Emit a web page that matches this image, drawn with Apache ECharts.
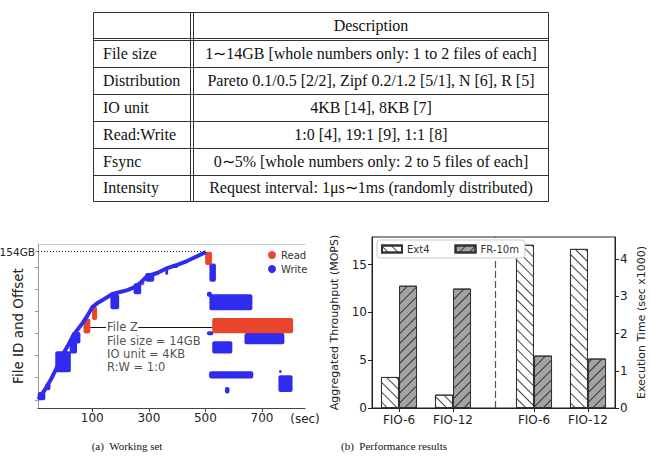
<!DOCTYPE html>
<html>
<head>
<meta charset="utf-8">
<script src="https://cdn.jsdelivr.net/npm/echarts@6/dist/echarts.min.js"></script>
<style>
html, body { margin: 0; padding: 0; background: #fff; }
#chart { width: 651px; height: 464px; }
</style>
</head>
<body>
<div id="chart"></div>
<script>
// ---- table ----
const tableHeader = 'Description'
const rowLabels = ['File size', 'Distribution', 'IO unit', 'Read:Write', 'Fsync', 'Intensity']
const rowDescriptions = [
  '1\u223C14GB [whole numbers only: 1 to 2 files of each]',
  'Pareto 0.1/0.5 [2/2], Zipf 0.2/1.2 [5/1], N [6], R [5]',
  '4KB [14], 8KB [7]',
  '1:0 [4], 19:1 [9], 1:1 [8]',
  '0\u223C5% [whole numbers only: 2 to 5 files of each]',
  'Request interval: 1\u03BCs\u223C1ms (randomly distributed)'
]
const captions = ['(a)  Working set', '(b)  Performance results']

// ---- (a) working set: sec / GB ----
const writeCurve = [
  [-91, 8.6], [-70, 17], [-48, 27.3], [-25, 40], [-2, 54], [15, 62], [33, 71.8], [50, 78],
  [68, 84.6], [85, 92], [100, 99.4], [118, 103.4], [140, 107], [171, 112.3], [224, 116.2],
  [250, 119], [269, 123.1], [294, 130], [330, 133], [365, 137.9], [400, 141], [435, 144.8], [502, 153.7]
]
// blocks: [startSec, endSec, lowGB, highGB]
const writeBlocks = [
  [-93, -66, 7.6, 15.8], [-66, -48, 17.5, 24.4], [-31, 24, 35.2, 56], [20, 46, 53.7, 66.8],
  [28, 58, 63.6, 75], [164, 195, 97.4, 112.2], [246, 273, 112.2, 123], [287, 319, 124.4, 133],
  [358, 368, 131.2, 139], [382, 404, 138, 142], [514, 537, 124.4, 142.5], [505, 523, 109.6, 114.5],
  [514, 666, 96.4, 112.2], [505, 528, 71.8, 75.7], [638, 779, 62.9, 74], [524, 595, 53.7, 65.8],
  [513, 669, 29, 36.2], [569, 585, 14.2, 20.7], [760, 770, 34.5, 37.2], [758, 808, 15.8, 32.3]
]
const readBlocks = [
  [69, 93, 73.4, 88.2], [99, 117, 86.6, 99.7], [273, 284, 121, 125.3],
  [499, 523, 140.8, 154], [524, 810, 73.7, 88.8]
]
const maxOffset = 154
const timeTicks = [100, 300, 500, 700]
const offsetTicks = [8, 30, 52, 74, 95, 117, 139, 154]
const annotationLines = ['File Z', 'File size = 14GB', 'IO unit = 4KB', 'R:W = 1:0']

// ---- (b) performance results ----
const groups = ['FIO-6', 'FIO-12', 'FIO-6', 'FIO-12']
const groupPos = [0, 1, 2.5, 3.5]
const ext4Throughput = [3.25, 1.4]
const frThroughput = [12.8, 12.5]
const ext4Time = [4.39, 4.28]   // sec x1000
const frTime = [1.41, 1.33]
const throughputTicks = [0, 5, 10, 15]
const timeTicksB = [0, 1, 2, 3, 4]

const BLUE = '#2f2bef'
const RED = '#e8452c'
const SANS = 'DejaVu Sans'
const SERIF = '"Liberation Serif", "Times New Roman", serif'

// table drawn as graphic elements
const T = { x0: 93.5, x1: 548.5, xs: 190.5, xs2: 193.5, top: 12.5, hdr: 38.5, hdr2: 40.5, rowH: 26.8 }
const tableEls = []
const hline = (y) => tableEls.push({ type: 'line', shape: { x1: T.x0, y1: y, x2: T.x1, y2: y }, style: { stroke: '#333', lineWidth: 1 } })
const bottom = T.hdr2 + T.rowH * rowLabels.length
hline(T.top); hline(T.hdr); hline(T.hdr2)
rowLabels.forEach((_, i) => hline(Math.round(T.hdr2 + T.rowH * (i + 1)) + 0.5))
;[T.x0, T.x1, T.xs, T.xs2].forEach(x => tableEls.push({ type: 'line', shape: { x1: x, y1: T.top, x2: x, y2: Math.round(bottom) + 0.5 }, style: { stroke: '#333', lineWidth: 1 } }))
const colMid = (T.xs2 + T.x1) / 2
const txt = (s, x, y, align, size) => tableEls.push({ type: 'text', x: x, y: y, style: { text: s, font: size + 'px ' + SERIF, fill: '#111', align: align, verticalAlign: 'middle' } })
txt(tableHeader, colMid, (T.top + T.hdr) / 2, 'center', 16)
rowLabels.forEach((s, i) => {
  const y = T.hdr2 + T.rowH * (i + 0.5)
  txt(s, 103, y, 'left', 16)
  txt(rowDescriptions[i], colMid, y, 'center', 16)
})
txt(captions[0], 127, 446, 'center', 11)
txt(captions[1], 394, 446, 'center', 11)

function renderBlock(params, api) {
  const a = api.coord([api.value(0), api.value(3)])
  const b = api.coord([api.value(1), api.value(2)])
  return {
    type: 'rect',
    shape: { x: a[0], y: a[1], width: b[0] - a[0], height: b[1] - a[1], r: 2 },
    style: { fill: api.visual('color') }
  }
}

const hatch = (rot, color) => ({
  symbol: 'rect', symbolSize: 1, dashArrayX: [1, 0], dashArrayY: [1, 6],
  rotation: rot, color: color, backgroundColor: null
})
const ext4Style = { color: '#ffffff', borderColor: '#333', borderWidth: 1, decal: hatch(Math.PI / 4, '#444') }
const frStyle = { color: '#a3a3a3', borderColor: '#333', borderWidth: 1, decal: hatch(-Math.PI / 4, '#333') }

const chart = echarts.init(document.getElementById('chart'), null, { renderer: 'svg' })
chart.setOption({
  animation: false,
  textStyle: { fontFamily: SANS },
  graphic: tableEls,
  legend: [
    {
      data: ['Read', 'Write'], orient: 'vertical', left: 268, top: 250,
      icon: 'circle', itemWidth: 8, itemHeight: 8, itemGap: 4,
      textStyle: { fontSize: 10, color: '#333', fontFamily: SANS }, padding: 0
    },
    {
      data: ['Ext4', 'FR-10m'], left: 377, top: 240, icon: 'rect', z: 20,
      itemWidth: 20, itemHeight: 7, itemGap: 25, backgroundColor: '#fff',
      borderColor: '#ccc', borderWidth: 1, borderRadius: 3, padding: [4, 6, 4, 4],
      textStyle: { fontSize: 10, color: '#333', fontFamily: SANS }
    }
  ],
  grid: [
    { left: 38, right: 346, top: 244, bottom: 56, outerBoundsMode: 'none', containLabel: false },
    { left: 372, right: 36, top: 237, bottom: 56, outerBoundsMode: 'none', containLabel: false, show: true, borderColor: '#222', borderWidth: 1 }
  ],
  xAxis: [
    {
      gridIndex: 0, type: 'value', min: -92, max: 852,
      name: '(sec)', nameLocation: 'end', nameGap: 0, nameMoveOverlap: false,
      nameTextStyle: { fontSize: 12, color: '#222', align: 'center', verticalAlign: 'top', padding: [5, 0, 0, 0] },
      axisLine: { onZero: false, lineStyle: { color: '#444' } },
      axisTick: { customValues: timeTicks, length: 4, lineStyle: { color: '#444' } },
      axisLabel: { customValues: timeTicks, fontSize: 12, color: '#222', margin: 4 },
      splitLine: { show: false }
    },
    {
      gridIndex: 0, type: 'value', position: 'top', min: -92, max: 852,
      axisLine: { onZero: false, lineStyle: { color: '#c8c8c8' } },
      axisTick: { show: false }, axisLabel: { show: false }, splitLine: { show: false }
    },
    {
      gridIndex: 1, type: 'value', min: -0.5, max: 4,
      axisLine: { onZero: false, lineStyle: { color: '#222' } },
      axisTick: { customValues: groupPos, length: 4, lineStyle: { color: '#222' } },
      axisLabel: {
        customValues: groupPos, fontSize: 12, color: '#222', margin: 6,
        formatter: (v) => groups[groupPos.indexOf(v)]
      },
      splitLine: { show: false }
    }
  ],
  yAxis: [
    {
      gridIndex: 0, type: 'value', min: 0, max: 161.6,
      name: 'File ID and Offset', nameLocation: 'middle', nameGap: 13, nameMoveOverlap: false,
      nameTextStyle: { fontSize: 13.5, color: '#222' },
      axisLine: { show: true, onZero: false, lineStyle: { color: '#999' } },
      axisTick: { show: true, customValues: offsetTicks, length: 3, lineStyle: { color: '#999' } },
      axisLabel: { customValues: [maxOffset], formatter: '{value}GB', fontSize: 10.5, color: '#222', margin: 3 },
      splitLine: { show: false }
    },
    {
      gridIndex: 1, type: 'value', min: 0, max: 17.9,
      name: 'Aggregated Throughput (MOPS)', nameLocation: 'middle', nameGap: 32, nameMoveOverlap: false,
      nameTextStyle: { fontSize: 11, color: '#222' },
      axisLine: { show: true, onZero: false, lineStyle: { color: '#222' } },
      axisTick: { show: true, customValues: throughputTicks, length: 4, lineStyle: { color: '#222' } },
      axisLabel: { customValues: throughputTicks, fontSize: 12, color: '#222', margin: 5 },
      splitLine: { show: false }
    },
    {
      gridIndex: 1, type: 'value', position: 'right', min: 0, max: 4.6,
      name: 'Execution Time (sec x1000)', nameLocation: 'middle', nameGap: 21, nameMoveOverlap: false,
      nameTextStyle: { fontSize: 11, color: '#222' },
      axisLine: { show: true, onZero: false, lineStyle: { color: '#222' } },
      axisTick: { show: true, customValues: timeTicksB, length: 4, lineStyle: { color: '#222' } },
      axisLabel: { customValues: timeTicksB, fontSize: 12, color: '#222', margin: 5 },
      splitLine: { show: false }
    }
  ],
  series: [
    {
      name: 'Write', type: 'line', xAxisIndex: 0, yAxisIndex: 0,
      data: writeCurve, showSymbol: false, symbol: 'none',
      lineStyle: { color: BLUE, width: 4 }, itemStyle: { color: BLUE },
      markLine: {
        silent: true, symbol: 'none', label: { show: false },
        lineStyle: { color: '#222', type: [1, 2], width: 1 },
        data: [[{ coord: [-92, maxOffset] }, { coord: [499, maxOffset] }]]
      }
    },
    {
      name: 'Write', type: 'custom', xAxisIndex: 0, yAxisIndex: 0,
      data: writeBlocks, encode: { x: [0, 1], y: [2, 3] },
      itemStyle: { color: BLUE }, renderItem: renderBlock
    },
    {
      name: 'Read', type: 'custom', xAxisIndex: 0, yAxisIndex: 0,
      data: readBlocks, encode: { x: [0, 1], y: [2, 3] },
      itemStyle: { color: RED }, renderItem: renderBlock
    },
    {
      name: 'annotation', type: 'scatter', xAxisIndex: 0, yAxisIndex: 0,
      data: [[152, 59.9]], symbolSize: 0, silent: true,
      label: {
        show: true, position: 'right', distance: 0,
        formatter: annotationLines.join('\n'),
        fontSize: 11.5, lineHeight: 13.3, color: '#222', align: 'left'
      },
      markLine: {
        silent: true, symbol: ['none', 'arrow'], symbolSize: [0, 6],
        label: { show: false },
        lineStyle: { color: '#111', type: 'solid', width: 1 },
        data: [
          [{ coord: [93, 79.7] }, { coord: [148, 79.7] }],
          [{ coord: [524, 79.7] }, { coord: [262, 79.7] }]
        ]
      }
    },
    {
      name: 'Ext4', type: 'bar', xAxisIndex: 2, yAxisIndex: 1, barWidth: 18, barGap: '-100%',
      data: ext4Throughput.map((v, i) => [groupPos[i] - 0.167, v]), itemStyle: ext4Style,
      markLine: {
        silent: true, symbol: 'none', label: { show: false }, z: 1,
        lineStyle: { color: '#555', type: [7, 3], width: 1.2 },
        data: [{ xAxis: 1.78 }]
      }
    },
    {
      name: 'FR-10m', type: 'bar', xAxisIndex: 2, yAxisIndex: 1, barWidth: 18, barGap: '-100%',
      data: frThroughput.map((v, i) => [groupPos[i] + 0.167, v]), itemStyle: frStyle
    },
    {
      name: 'Ext4', type: 'bar', xAxisIndex: 2, yAxisIndex: 2, barWidth: 18, barGap: '-100%',
      data: ext4Time.map((v, i) => [groupPos[i + 2] - 0.167, v]), itemStyle: ext4Style
    },
    {
      name: 'FR-10m', type: 'bar', xAxisIndex: 2, yAxisIndex: 2, barWidth: 18, barGap: '-100%',
      data: frTime.map((v, i) => [groupPos[i + 2] + 0.167, v]), itemStyle: frStyle
    }
  ]
})
</script>
</body>
</html>
